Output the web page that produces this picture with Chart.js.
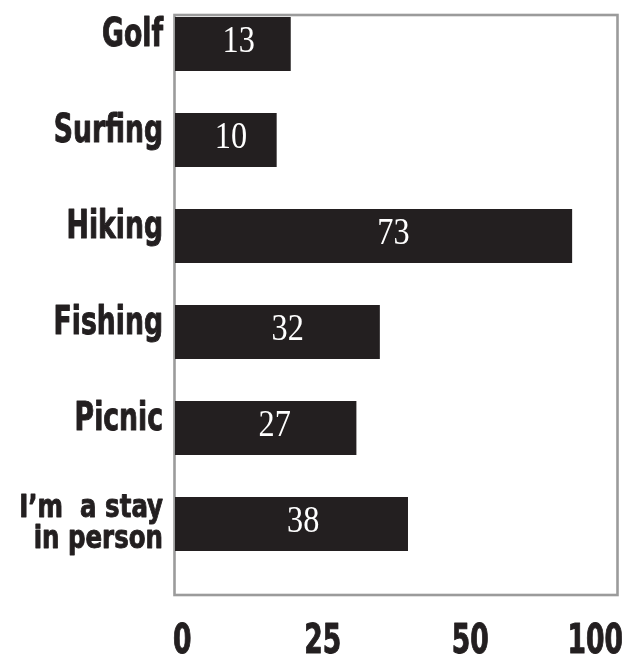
<!DOCTYPE html>
<html>
<head>
<meta charset="utf-8">
<script src="https://cdn.jsdelivr.net/npm/chart.js@4/dist/chart.umd.min.js"></script>
<style>
  html, body { margin: 0; padding: 0; background: #ffffff; }
  #wrap { width: 622px; height: 657px; position: relative; }
</style>
</head>
<body>
<div id="wrap"><canvas id="c"></canvas></div>
<script>
// ---- data ----
const categories = ['Golf', 'Surfing', 'Hiking', 'Fishing', 'Picnic', ['I\u2019m  a stay', 'in person']];
const values = [13, 10, 73, 32, 27, 38];
const tickLabels = ['0', '25', '50', '100'];

// ---- style ----
const barColor = '#231f20';
const textColor = '#231f20';
const frameColor = '#9b9b9b';
const labelFont = "'Liberation Sans Narrow', 'DejaVu Sans Condensed', 'Arial Narrow', sans-serif";
const valueFont = "'Liberation Serif', 'DejaVu Serif', 'Times New Roman', serif";

// The printed chart is not drawn to scale; this hidden value range approximates its bar lengths.
const xMin = -11.68, xMax = 82.78;

function drawNarrow(ctx, text, x, y, align, sx, stroke) {
  ctx.save();
  ctx.translate(x, y);
  ctx.scale(sx, 1);
  ctx.textAlign = align;
  ctx.textBaseline = 'alphabetic';
  ctx.fillText(text, 0, 0);
  if (stroke) {
    ctx.lineWidth = stroke;
    ctx.lineJoin = 'round';
    ctx.strokeStyle = ctx.fillStyle;
    ctx.strokeText(text, 0, 0);
  }
  ctx.restore();
}

const framePlugin = {
  id: 'frame',
  beforeDatasetsDraw(chart) {
    const a = chart.chartArea, ctx = chart.ctx;
    ctx.save();
    ctx.strokeStyle = frameColor;
    ctx.lineWidth = 2.6;
    ctx.strokeRect(a.left - 0.5, a.top, a.right - a.left, a.bottom - a.top);
    ctx.restore();
  }
};

const axisLabelPlugin = {
  id: 'axisLabels',
  afterDraw(chart) {
    const ctx = chart.ctx;
    const yS = chart.scales.y, xS = chart.scales.x2, a = chart.chartArea;
    ctx.save();
    ctx.fillStyle = textColor;
    // category labels
    categories.forEach((c, i) => {
      const py = yS.getPixelForValue(i);
      const rx = a.left - 12;
      if (Array.isArray(c)) {
        ctx.font = 'bold 32px ' + labelFont;
        drawNarrow(ctx, c[0], rx, py - 7, 'right', 0.85, 0.9);
        drawNarrow(ctx, c[1], rx, py + 24, 'right', 0.85, 0.9);
      } else {
        ctx.font = 'bold 38.5px ' + labelFont;
        drawNarrow(ctx, c, rx, py + 2, 'right', 0.77, 1);
      }
    });
    // tick labels
    ctx.font = 'bold 41px ' + labelFont;
    tickLabels.forEach((t, i) => {
      const px = xS.getPixelForValue(i);
      let align = 'center', ox = 0;
      if (i === 0) { align = 'left'; ox = -2; }
      else if (i === tickLabels.length - 1) { align = 'right'; ox = 5; }
      drawNarrow(ctx, t, px + ox, 653, align, 0.72, 1);
    });
    ctx.restore();
  }
};

const valueLabelPlugin = {
  id: 'valueLabels',
  afterDatasetsDraw(chart) {
    const ctx = chart.ctx;
    const meta = chart.getDatasetMeta(0);
    ctx.save();
    ctx.fillStyle = '#ffffff';
    ctx.font = '38px ' + valueFont;
    meta.data.forEach((bar, i) => {
      const p = bar.getProps(['x', 'y', 'base'], true);
      const cx = p.base + (p.x - p.base) * 0.55;
      drawNarrow(ctx, String(values[i]), cx, p.y + 8, 'center', 0.85, 0);
    });
    ctx.restore();
  }
};

new Chart(document.getElementById('c'), {
  type: 'bar',
  data: {
    datasets: [{
      data: values.map((v, i) => ({ x: v, y: i })),
      backgroundColor: barColor,
      borderWidth: 0,
      base: xMin,
      barPercentage: 0.5625,
      categoryPercentage: 1
    }]
  },
  options: {
    indexAxis: 'y',
    responsive: true,
    maintainAspectRatio: false,
    animation: false,
    layout: { padding: { top: 15, right: 4, left: 0, bottom: 0 } },
    plugins: { legend: { display: false }, tooltip: { enabled: false } },
    scales: {
      x: {
        type: 'linear',
        display: false,
        offset: false,
        min: xMin,
        max: xMax
      },
      x2: {
        type: 'category',
        axis: 'x',
        position: 'bottom',
        labels: tickLabels,
        offset: false,
        grid: { display: false, drawTicks: false },
        border: { display: false },
        ticks: { display: false },
        afterFit(scale) {
          scale.height = 62;
          scale.paddingLeft = 0; scale.paddingRight = 0;
          scale.paddingTop = 0; scale.paddingBottom = 0;
        }
      },
      y: {
        type: 'linear',
        reverse: true,
        offset: false,
        min: -0.302,
        max: 5.74,
        grid: { display: false, drawTicks: false },
        border: { display: false },
        afterBuildTicks(scale) {
          scale.ticks = categories.map((c, i) => ({ value: i }));
        },
        ticks: { display: false },
        afterFit(scale) {
          scale.width = 175;
          scale.paddingLeft = 0; scale.paddingRight = 0;
          scale.paddingTop = 0; scale.paddingBottom = 0;
        }
      }
    }
  },
  plugins: [framePlugin, valueLabelPlugin, axisLabelPlugin]
});
</script>
</body>
</html>
